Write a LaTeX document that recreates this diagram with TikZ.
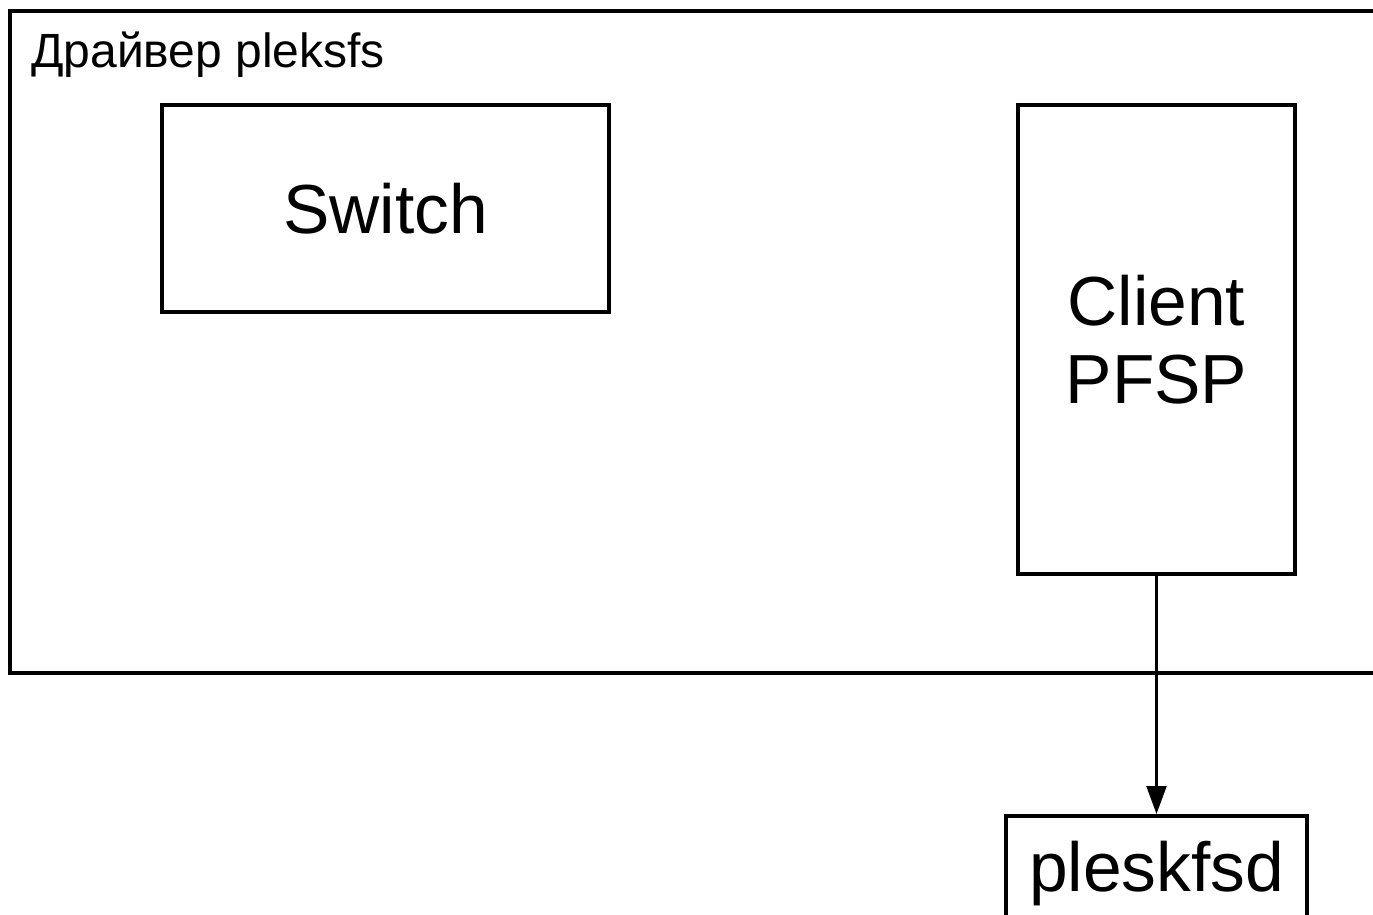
\documentclass[tikz,border=0pt]{standalone}
\usepackage{fontspec}
\setmainfont{Liberation Sans}
\usetikzlibrary{arrows.meta}
\begin{document}
\begin{tikzpicture}[x=1pt,y=-1pt,
  box/.style={draw,line width=4pt,inner sep=0pt,line join=miter},
  big/.style={font=\fontsize{69.5}{78}\selectfont},
  conn/.style={line width=2.2pt,-{Triangle[length=28pt,width=20pt]}}]
\useasboundingbox (0,0) rectangle (1373,915);
\clip (0,0) rectangle (1373,915);
\node[box,minimum width=1390pt,minimum height=662pt] (outer) at (705,342) {};
\node[anchor=base west,font=\fontsize{48}{56}\selectfont,inner sep=0pt] (title) at (31,68) {Драйвер pleksfs};
\node[box,big,minimum width=447pt,minimum height=207pt] (switch) at (385.5,208.5) {Switch};
\node[box,big,align=center,minimum width=277pt,minimum height=469pt] (client) at (1156.5,339.5) {Client\\PFSP};
\node[box,minimum width=301pt,minimum height=144pt] (pleskfsd) at (1156.5,888) {};
\node[big,anchor=base,inner sep=0pt] (plabel) at (1156.5,891) {pleskfsd};
\draw[conn] (client.south) -- (pleskfsd.north);
\end{tikzpicture}
\end{document}
